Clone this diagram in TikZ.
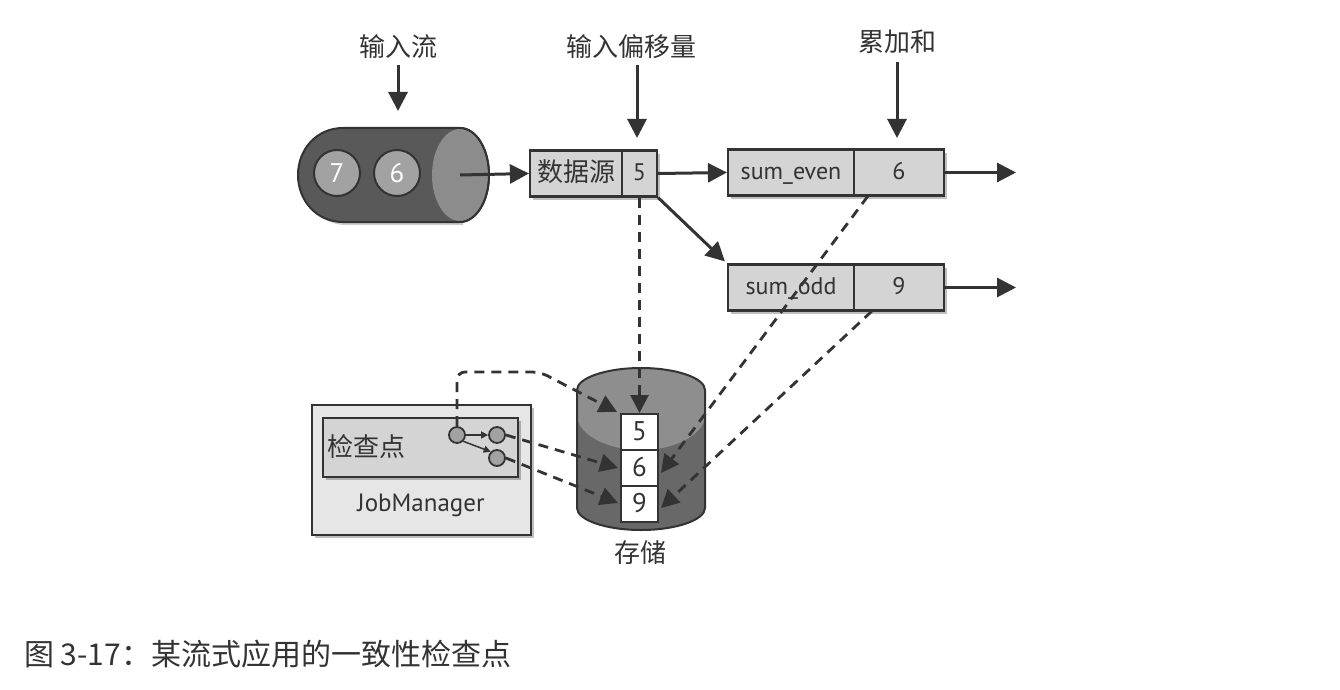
\documentclass[tikz,border=0pt]{standalone}
\usepackage{fontspec}
\setmainfont{PT Sans}
\newfontfamily\cjk{Noto Sans CJK SC}
\usetikzlibrary{arrows.meta,shadows,calc}
\definecolor{ink}{HTML}{333333}
\definecolor{boxfill}{HTML}{D4D4D4}
\definecolor{jmfill}{HTML}{E6E6E6}
\definecolor{cyldark}{HTML}{595959}
\definecolor{cyllight}{HTML}{8C8C8C}
\definecolor{stdark}{HTML}{686868}
\definecolor{stlight}{HTML}{8E8E8E}
\definecolor{ballfill}{HTML}{A2A2A2}
\begin{document}
\begin{tikzpicture}[x=1pt,y=-1pt,
  shd/.style={drop shadow={shadow xshift=3pt,shadow yshift=-3pt,opacity=0.25,fill=black}},
  cell/.style={draw=ink,line width=2.2pt,fill=boxfill,minimum height=46pt,inner sep=0pt,shd,
    text height=17pt,text depth=4pt,font=\fontsize{24}{28}\selectfont,text=ink},
  cjklab/.style={font=\cjk\fontsize{26}{30}\selectfont,text=ink,inner sep=0pt},
  arr/.style={draw=ink,line width=3pt,-{Triangle[length=19pt,width=19pt]}},
  darr/.style={draw=ink,line width=2.8pt,dash pattern=on 10pt off 7pt,-{Triangle[length=18pt,width=18pt]}},
  ball/.style={circle,draw=ink,line width=2pt,fill=ballfill,minimum size=46pt,inner sep=0pt,
    text=white,font=\fontsize{27}{30}\selectfont},
  sball/.style={circle,draw=ink,line width=1.8pt,fill=ballfill,minimum size=16pt,inner sep=0pt},
  slot/.style={draw=ink,line width=2pt,fill=white,minimum width=37pt,minimum height=36pt,inner sep=0pt,
    text height=18pt,text depth=1pt,font=\fontsize{27}{30}\selectfont,text=ink}]
\useasboundingbox (0,0) rectangle (1340,690);
\fill[white] (0,0) rectangle (1340,690);

% ---------- input stream cylinder ----------
\fill[black,opacity=0.2] (346,134) .. controls (321,134) and (301,155) .. (301,179) .. controls (301,204) and (321,225) .. (346,225) -- (463,225) -- (463,134) -- cycle;
\path[fill=cyldark,draw=ink,line width=2pt] (343,128) .. controls (317,128) and (298,149) .. (298,175) .. controls (298,201) and (317,222) .. (343,222) -- (460,222) .. controls (476,222) and (489,201) .. (489,175) .. controls (489,149) and (476,128) .. (460,128) -- cycle;
\path[fill=cyllight] (460,175) ellipse [x radius=28, y radius=46];
\draw[ink,line width=2pt] (460,128) .. controls (476,128) and (489,149) .. (489,175) .. controls (489,201) and (476,222) .. (460,222);
\node[ball] (b7) at (337,173) {7};
\node[ball] (b6) at (397,173) {6};
\coordinate (cylout) at (460,175);

% ---------- operator boxes ----------
\node[cell,minimum width=92pt,font=\cjk\fontsize{26}{30}\selectfont,text height=20pt,text depth=5pt] (ds) at (576,173.5) {数据源};
\node[cell,minimum width=35pt] (five) at (639.5,173.5) {5};
\node[cell,minimum width=126pt] (se) at (791,172.5) {sum\_even};
\node[cell,minimum width=90pt] (sev) at (899,172.5) {6};
\node[cell,minimum width=126pt] (so) at (791,287.5) {sum\_odd};
\node[cell,minimum width=90pt] (sov) at (899,287.5) {9};

% ---------- labels on top ----------
\node[cjklab] (lin) at (398,47) {输入流};
\node[cjklab] (loff) at (631,47) {输入偏移量};
\node[cjklab] (lsum) at (897,42) {累加和};
\coordinate (linT) at (398,111);
\coordinate (loffT) at (637,138);
\coordinate (lsumT) at (897,138);
\coordinate (linS) at (398,65);
\coordinate (loffS) at (637,65);
\coordinate (lsumS) at (897,62);
\draw[arr] (linS) -- (linT);
\draw[arr] (loffS) -- (loffT);
\draw[arr] (lsumS) -- (lsumT);

% ---------- solid flow arrows ----------
\draw[arr] (cylout) -- (ds.west);
\draw[arr] (five.east) -- (se.west);
\draw[arr] (five.south east) -- ([xshift=-2pt,yshift=2pt]so.north west);
\coordinate (outE) at (1016,172.5);
\coordinate (outO) at (1016,287.5);
\draw[arr] (sev.east) -- (outE);
\draw[arr] (sov.east) -- (outO);

% ---------- JobManager ----------
\node[draw=ink,line width=2pt,fill=jmfill,minimum width=219pt,minimum height=130pt,inner sep=0pt,shd] (jm) at (421,470) {};
\node[draw=ink,line width=2pt,fill=boxfill,minimum width=195pt,minimum height=59pt,inner sep=0pt,shd] (cp) at (420.5,447.5) {};
\node[cjklab] (cplab) at (366,447) {检查点};
\node[font=\fontsize{25}{29}\selectfont,text=ink,inner sep=0pt] (jmlab) at (421,505) {JobManager};
\node[sball] (c1) at (457,435) {};
\node[sball] (c2) at (497,435) {};
\node[sball] (c3) at (497,458) {};
\draw[ink,line width=1.5pt,-{Triangle[length=7pt,width=7pt]}] (c1.east) -- (c2.west);
\draw[ink,line width=1.5pt,-{Triangle[length=7pt,width=7pt]}] (c1.south east) -- (c3.north west);

% ---------- storage cylinder ----------
\path[fill=stdark] (577,390) .. controls (577,378) and (606,368) .. (641,368) .. controls (676,368) and (705,378) .. (705,390) -- (705,508) .. controls (705,520) and (676,530) .. (641,530) .. controls (606,530) and (577,520) .. (577,508) -- cycle;
\path[fill=stlight] (577,390) .. controls (577,378) and (606,368) .. (641,368) .. controls (676,368) and (705,378) .. (705,390) -- (705,415) .. controls (705,434) and (676,450) .. (641,450) .. controls (606,450) and (577,434) .. (577,415) -- cycle;
\draw[ink,line width=2pt] (577,390) .. controls (577,378) and (606,368) .. (641,368) .. controls (676,368) and (705,378) .. (705,390) -- (705,508) .. controls (705,520) and (676,530) .. (641,530) .. controls (606,530) and (577,520) .. (577,508) -- cycle;
\node[slot] (s5) at (639.5,432) {5};
\node[slot] (s6) at (639.5,468) {6};
\node[slot] (s9) at (639.5,504) {9};
\node[cjklab] (stlab) at (640,553) {存储};

% ---------- dashed checkpoint arrows ----------
\draw[darr] (five.south) -- (s5.north);
\coordinate (bend) at (540,372);
\draw[darr,rounded corners=8pt] (c1.north) |- (bend) -- ([xshift=-3pt,yshift=1pt]s5.north west);
\draw[darr] (c2.east) -- ([xshift=-2pt]s6.west);
\draw[darr] (c3.east) -- ([xshift=-2pt,yshift=1pt]s9.west);
\coordinate (seS) at (868,196);
\coordinate (soS) at (872,311);
\draw[darr] (seS) -- ([xshift=2pt,yshift=-5pt]s6.east);
\draw[darr] (soS) -- ([xshift=2pt,yshift=-4pt]s9.east);

% ---------- caption ----------
\node[anchor=west,font=\cjk\fontsize{30}{34}\selectfont,text=ink,inner sep=0pt] (cap) at (24,654) {图 3-17：某流式应用的一致性检查点};
\end{tikzpicture}
\end{document}
